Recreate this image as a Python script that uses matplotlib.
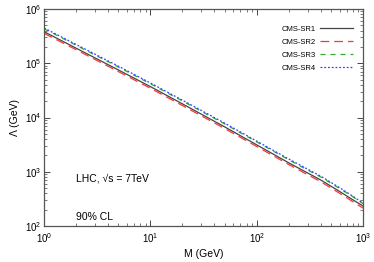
import numpy as np
import matplotlib
matplotlib.use("Agg")
import matplotlib.pyplot as plt
from matplotlib.ticker import LogLocator, NullFormatter

#DATA

mass = [1, 2, 5, 10, 20, 50, 100, 200, 400, 600, 800, 1000]

# CMS-SR1, solid
lam_sr1 = [3.8e5, 1.89e5, 7.5e4, 3.7e4, 1.78e4, 6.7e3, 3.13e3, 1.46e3, 705, 435, 305, 234]
# CMS-SR2, slightly below SR1
lam_sr2 = [3.55e5, 1.77e5, 7.0e4, 3.45e4, 1.66e4, 6.25e3, 2.92e3, 1.36e3, 655, 403, 282, 214]
# CMS-SR3, just above SR1
lam_sr3 = [4.3e5, 2.14e5, 8.5e4, 4.18e4, 2.01e4, 7.6e3, 3.55e3, 1.66e3, 800, 494, 347, 258]
# CMS-SR4, top curve
lam_sr4 = [4.45e5, 2.21e5, 8.8e4, 4.32e4, 2.08e4, 7.85e3, 3.67e3, 1.72e3, 828, 511, 355, 264]

labels = ["CMS-SR1", "CMS-SR2", "CMS-SR3", "CMS-SR4"]

#STYLE
plt.rcParams["font.family"] = ["Liberation Sans", "DejaVu Sans"]
plt.rcParams["mathtext.default"] = "regular"


def plot_limits() -> None:
    """Single log-log panel: lower bound on Lambda vs mediator mass."""
    fig = plt.figure(figsize=(3.74, 2.62), dpi=100)
    ax = fig.add_axes([0.118, 0.137, 0.853, 0.829])

    styles = [
        dict(color="#444444", ls="-", lw=0.9),
        dict(color="#ff3333", ls=(0, (7, 4)), lw=0.9),
        dict(color="#33aa33", ls=(0, (4, 4)), lw=0.9),
        dict(color="#3344ff", ls=(0, (1.5, 1.5)), lw=0.9),
    ]
    series = [lam_sr1, lam_sr2, lam_sr3, lam_sr4]
    for lam, lab, st in zip(series, labels, styles):
        ax.plot(mass, lam, label=lab, **st)

    ax.set_xscale("log")
    ax.set_yscale("log")
    ax.set_xlim(1, 1000)
    ax.set_ylim(1e2, 1e6)

    #ticks inward, on every side
    for axis in (ax.xaxis, ax.yaxis):
        axis.set_major_locator(LogLocator(base=10, numticks=10))
        axis.set_minor_locator(LogLocator(base=10, subs=np.arange(2, 10), numticks=10))
        axis.set_minor_formatter(NullFormatter())
    ax.tick_params(which="both", direction="in", top=True, right=True,
                   labelsize=7, color="#444444")
    ax.tick_params(axis="x", pad=3.5)
    ax.tick_params(axis="y", pad=2)
    ax.tick_params(which="major", length=4, width=0.7)
    ax.tick_params(which="minor", length=2, width=0.5)
    for sp in ax.spines.values():
        sp.set_color("#555555")
        sp.set_linewidth(0.9)

    ax.set_xlabel("M (GeV)", fontsize=7.5, labelpad=3)
    ax.set_ylabel("Λ (GeV)", fontsize=7.5)
    ax.yaxis.set_label_coords(-0.075, 0.5)

    ax.text(0.1, 0.207, "LHC, √s = 7TeV", transform=ax.transAxes, fontsize=7.5)
    ax.text(0.1, 0.027, "90% CL", transform=ax.transAxes, fontsize=7.5)

    ax.legend(loc="upper right", bbox_to_anchor=(0.99, 0.955), frameon=False,
              fontsize=5.5, markerfirst=False, handlelength=4.3,
              labelspacing=0.75, handletextpad=0.6)

    fig.savefig("out.png", dpi=100)


#ENTRY POINT
if __name__ == "__main__":
    plot_limits()
